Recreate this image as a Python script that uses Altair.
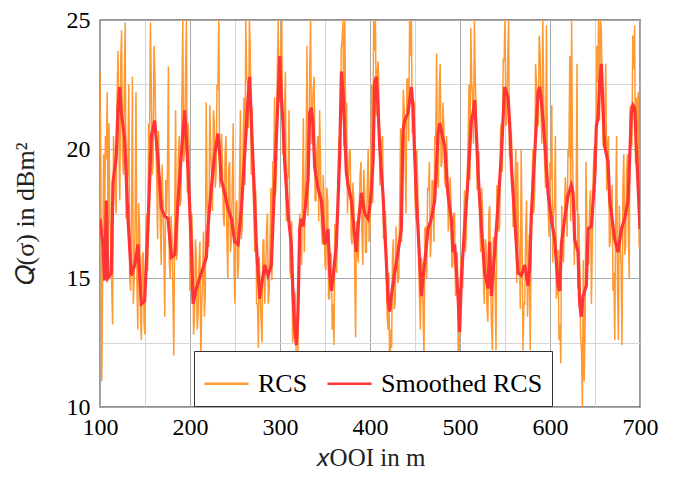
import altair as alt
import pandas as pd

# ---- data ----
series_names = ["RCS", "Smoothed RCS"]
series_colors = ["#ff9933", "#ff3535"]

# RCS sampled at even metres from 100 m to 700 m
rcs_x_even = list(range(100, 701, 2))
rcs_y_even = [
    23.0, 11.0, 19.8, 20.5, 22.2, 21.0, 16.0, 13.2, 19.5, 17.5, 23.8, 18.0, 24.6, 19.0, 24.9, 18.5,
    22.5, 14.5, 22.8, 15.0, 22.2, 13.0, 17.0, 12.6, 16.0, 12.8, 17.5, 21.0, 24.9, 19.0, 24.0, 20.5,
    16.5, 19.0, 15.5, 18.0, 13.5, 17.5, 23.2, 15.0, 16.5, 12.0, 21.5, 16.0, 20.5, 18.0, 25.0, 20.0,
    25.0, 21.0, 14.5,
    17.5, 12.8, 16.5, 13.0, 15.5, 11.8, 15.0, 13.5, 21.8, 17.0, 21.7, 19.0, 21.5, 18.5, 22.5, 25.0,
    20.0, 19.5, 17.0, 20.5, 15.0, 19.5, 16.5, 21.0, 14.0, 18.0, 15.5, 21.5, 17.0, 22.0, 25.0, 22.5,
    25.0, 19.0, 18.5, 16.0, 14.0, 12.3, 14.5, 12.5, 16.5, 15.0, 17.5, 14.5, 18.5, 19.5, 22.0, 19.0,
    25.0, 22.0,
    25.0, 20.5, 23.0, 19.0, 21.5, 15.0, 12.5, 14.5, 12.0, 12.2, 17.5, 15.5, 21.2, 18.0, 24.0, 19.5,
    25.0, 21.5, 22.8, 18.0, 20.5, 21.5, 17.0, 19.0, 15.5, 18.5, 14.2, 16.0, 13.0, 12.4, 15.5, 18.3,
    20.5, 23.9, 25.0, 25.0, 21.8, 18.8, 20.0, 16.3, 18.0, 12.7, 16.0, 17.5, 19.5, 15.5, 18.5, 16.0,
    20.0, 17.0,
    22.5, 25.0, 25.0, 23.0, 22.0, 19.5, 20.5, 17.5, 16.5, 13.0, 10.4, 12.3, 16.5, 14.0, 16.0, 15.0,
    20.8, 19.5, 21.5, 17.5, 22.7, 25.0, 25.0, 21.8, 18.0, 20.0, 16.0, 13.0, 15.5, 12.0, 17.0, 18.5,
    19.5, 16.5, 18.7, 20.5, 23.7, 18.5, 23.3, 19.5, 21.0, 18.5, 19.5, 17.5, 18.0, 15.5, 17.5, 14.5,
    12.0, 13.5,
    15.5, 17.0, 16.0, 19.0, 22.5, 24.7, 22.0, 25.0, 21.5, 19.5, 17.0, 18.5, 15.0, 16.5, 13.8, 17.5,
    15.0, 12.2, 15.5, 12.2, 18.0, 17.0, 21.0, 23.5, 25.0, 21.0, 25.0, 20.0, 19.5, 17.0, 20.0, 19.5,
    16.0, 20.0, 12.2, 14.0, 18.0, 15.0, 12.2, 18.5, 17.5, 23.3, 21.0, 24.4, 21.5, 25.0, 19.5, 24.8,
    17.5, 19.5,
    21.7, 17.5, 20.5, 14.5, 12.6, 11.7, 16.0, 17.5, 18.0, 20.0, 23.6, 25.0, 18.0, 17.5, 23.3, 17.5,
    12.7, 10.0, 11.0, 19.5, 17.0, 17.8, 14.0, 19.0, 20.2, 24.0, 25.0, 25.0, 22.0, 21.0, 23.3, 20.2,
    16.2, 17.5, 14.5, 12.6, 20.5, 12.6, 16.2, 12.4, 19.8, 16.2, 19.8, 15.0, 21.7, 24.4, 24.8, 22.0,
    22.2, 18.5,
]

# RCS at odd metres from 101 m to 699 m
rcs_x_odd = list(range(101, 700, 2))
rcs_y_odd = [
    19.0, 15.2, 16.8, 19.6, 16.2, 17.3, 14.8, 20.5, 18.0, 22.1, 20.5, 23.4, 19.8, 22.5, 17.3, 19.2,
    15.0, 17.4, 14.0, 17.2, 14.8, 17.9, 13.5, 15.8, 13.2, 16.9, 15.3, 20.2, 22.4, 19.5, 22.9, 18.8,
    20.7, 17.0, 19.4, 16.1, 18.8, 19.3, 15.6, 17.4, 14.5, 17.5, 15.7, 19.6, 17.8, 22.0, 19.5, 22.8,
    18.3, 20.0,
    15.5, 16.0, 13.4, 15.9, 13.6, 16.4, 13.9, 16.8, 14.4, 18.0, 16.2, 19.9, 17.6, 21.0, 19.0, 22.3,
    18.5, 20.6, 17.4, 19.8, 16.6, 19.2, 16.0, 18.6, 15.2, 17.8, 15.0, 18.6, 16.5, 20.3, 18.6, 22.8,
    20.8, 23.8, 21.6, 17.3, 18.4, 14.0, 15.8, 13.3, 16.4, 14.0, 16.8, 14.0, 16.7, 14.9, 19.5, 18.2,
    23.0, 21.8,
    24.0, 19.8, 21.2, 17.2, 18.9, 15.3, 17.2, 12.8, 14.3, 11.8, 16.8, 16.0, 18.5, 16.0, 19.8, 17.4,
    23.0, 20.2, 22.4, 18.0, 19.9, 17.2, 19.6, 16.3, 17.8, 15.3, 18.0, 14.2, 15.9, 14.0, 17.1, 15.2,
    19.9, 20.0, 24.2, 20.1, 21.0, 17.5, 19.8, 16.6, 18.7, 15.3, 17.2, 15.6, 19.0, 16.8, 19.2, 16.0,
    18.6, 16.4,
    19.6, 17.9, 23.8, 21.3, 23.4, 18.6, 20.3, 16.5, 17.6, 13.6, 15.2, 13.0, 15.9, 13.8, 17.0, 14.8,
    17.8, 16.4, 22.3, 19.8, 22.7, 20.3, 23.6, 20.6, 21.8, 17.2, 18.6, 14.3, 15.8, 13.6, 16.9, 15.0,
    18.4, 15.8, 18.8, 16.4, 20.2, 19.0, 22.4, 19.3, 21.8, 18.8, 20.5, 16.8, 18.9, 15.4, 17.5, 14.3,
    16.0, 12.0,
    15.8, 14.6, 18.4, 16.6, 20.3, 18.8, 22.6, 20.2, 22.6, 18.4, 19.9, 16.0, 17.7, 14.0, 16.3, 13.3,
    17.8, 13.1, 16.6, 14.8, 18.6, 16.8, 20.7, 19.1, 23.4, 20.9, 23.5, 19.7, 20.7, 17.0, 18.5, 14.8,
    16.6, 13.8, 16.6, 14.0, 16.8, 13.5, 16.7, 16.0, 20.0, 18.4, 22.5, 20.9, 23.7, 20.2, 22.2, 18.5,
    20.1, 16.6,
    18.8, 15.6, 17.9, 14.2, 16.1, 13.2, 17.8, 15.6, 18.9, 16.6, 19.7, 17.2, 20.0, 15.5, 17.7, 14.6,
    15.4, 12.2, 15.7, 13.2, 16.9, 15.5, 18.4, 16.2, 20.0, 19.1, 22.6, 21.1, 24.7, 20.1, 21.5, 18.4,
    20.5, 16.4, 18.6, 15.2, 17.7, 14.6, 17.8, 15.5, 18.5, 15.9, 19.1, 16.9, 21.6, 20.1, 23.1, 19.4,
    20.6, 16.2,
]

smooth_x = [
    100, 103.3, 105.2, 107, 108.9, 112.6, 114.4, 118.1, 120, 121.9, 123.7, 127.4, 131.1, 134.8,
    138.5, 142.2, 145.9, 149.6, 153.3, 157, 160.7, 164.4, 168.1, 171.9, 175.6, 179.3, 183, 186.7,
    190.4, 194.1, 197.8, 201.5, 203.4, 207.1, 210.8, 214.5, 218.2, 220, 223.7, 227.4, 231.1, 233,
    234.8, 238.5, 242.2, 246, 249.7, 253.4, 257.1, 260.8, 264.5, 266.3, 268.2, 271.9, 273.7, 277.4,
    279.3, 283, 286.7, 290.4, 294.1, 297.8, 299.7, 301.5, 303.4, 305.2, 308.9, 312.6, 314.5, 316.3,
    318.2, 320, 321.9, 323.7, 325.6, 327.4, 331.1, 333, 334.8, 336.7, 338.5, 342.2, 346, 349.6,
    353.4, 355.2, 357.1, 358.9, 362.6, 364.5, 366.3, 368.2, 370, 371.9, 373.7, 375.6, 379.3, 383,
    384.8, 386.7, 390.4, 394.1, 397.8, 400, 401.5, 403.4, 405.2, 407.1, 408.9, 410.8, 412.6, 414.5,
    416.3, 418.2, 420, 421.9, 423.7, 427.4, 431.1, 434.8, 436.7, 438.5, 442.2, 446, 447.8, 449.6,
    451.5, 453.4, 455.2, 457.1, 458.9, 460.8, 464.5, 468.2, 471.9, 475.6, 477.4, 479.3, 483, 486.7,
    490.4, 492.2, 494.1, 497.8, 499.6, 501.5, 505.2, 508.9, 512.6, 514.5, 516.3, 518.2, 520, 523.7,
    527.4, 531.1, 533, 534.8, 538.5, 542.2, 546, 549.6, 553.4, 555.2, 557.1, 560.8, 562.6, 564.5,
    568.2, 571.9, 575.6, 577.4, 579.3, 583, 586.7, 588.5, 590.4, 594.1, 597.8, 601.5, 605.2, 608.9,
    610.8, 612.6, 616.3, 620, 623.7, 625.6, 627.4, 631.1, 633, 634.8, 636.7, 640.4, 642.2, 646,
    649.6, 651.5, 653.4, 655.2, 657.1, 658.9, 660.8, 664.5, 666.3, 668.2, 671.9, 675.6, 679.3, 683,
    686.7, 690.4, 692.2, 694.1, 695.9, 697.8, 700,
]
smooth_y = [
    17.3, 16.3, 14.9, 18.0, 15.0, 15.2, 18.7, 19.7, 21.6, 22.4, 21.4, 20.4, 17.3, 15.1,
    15.5, 16.3, 14.0, 14.1, 17.0, 20.5, 21.1, 19.6, 17.7, 17.4, 17.3, 15.8, 15.9, 18.0,
    19.8, 21.5, 19.2, 16.3, 14.0, 14.6, 15.0, 15.4, 15.8, 17.0, 18.5, 19.8, 20.6, 19.8,
    18.8, 18.3, 17.7, 17.3, 16.4, 16.3, 17.7, 19.8, 22.0, 22.8, 21.0, 18.0, 16.3, 14.2,
    14.7, 15.5, 15.1, 15.5, 18.8, 22.0, 23.6, 22.0, 21.0, 19.5, 17.5, 16.3, 14.3, 13.1,
    12.4, 13.7, 16.9, 17.3, 17.0, 17.5, 18.8, 21.4, 21.6, 21.0, 19.3, 18.5, 18.0, 16.3,
    16.9, 15.2, 14.5, 15.0, 16.3, 18.0, 19.7, 23.0, 22.2, 20.7, 19.1, 18.6, 18.0, 16.6,
    16.0, 17.0, 18.3, 17.5, 17.3, 17.8, 18.4, 19.5, 22.6, 22.8, 21.6, 20.1, 19.1, 18.2,
    16.9, 15.6, 14.1, 13.7, 14.3, 15.2, 16.0, 16.9, 20.7, 21.1, 21.4, 22.4, 21.6, 19.8,
    18.2, 16.9, 15.6, 14.3, 15.0, 15.6, 16.9, 17.3, 18.0, 20.6, 21.0, 20.7, 20.1, 18.2,
    17.3, 16.0, 16.3, 14.3, 12.9, 15.0, 17.0, 18.8, 21.1, 21.4, 21.9, 20.6, 19.1, 17.0,
    15.2, 14.6, 16.4, 14.3, 16.0, 17.8, 19.8, 22.4, 22.0, 21.0, 19.3, 17.3, 16.3, 15.2,
    15.1, 15.5, 14.7, 15.4, 17.5, 19.8, 22.2, 22.4, 21.9, 20.3, 18.3, 17.3, 16.5, 14.7,
    14.5, 16.3, 17.3, 18.2, 18.6, 18.3, 16.5, 16.0, 14.0, 13.5, 14.3, 14.7, 16.9, 17.0,
    18.8, 20.9, 21.2, 22.6, 23.3, 21.6, 20.1, 19.5, 18.0, 17.5, 16.5, 16.0, 16.9, 17.3,
    18.0, 21.4, 21.7, 21.6, 20.1, 18.6, 16.9,
]

x_ticks = [100, 150, 200, 250, 300, 350, 400, 450, 500, 550, 600, 650, 700]
y_ticks = [10, 12.5, 15, 17.5, 20, 22.5, 25]

rcs_df = (
    pd.DataFrame({"x": rcs_x_even + rcs_x_odd, "y": rcs_y_even + rcs_y_odd})
    .sort_values("x")
    .assign(series=series_names[0])
)
smooth_df = pd.DataFrame({"x": smooth_x, "y": smooth_y, "series": series_names[1]})

FONT = "Liberation Serif"

x_enc = alt.X(
    "x:Q",
    scale=alt.Scale(domain=[100, 700], nice=False, zero=False),
    axis=alt.Axis(
        values=x_ticks,
        labelExpr="datum.value % 100 === 0 ? datum.label : ''",
        title="𝑥OOI in m",
        grid=True,
        gridColor={"condition": {"test": "datum.value % 100 === 0", "value": "#a9a9a9"}, "value": "#d6d6d6"},
        gridWidth=1,
        ticks=False,
        domain=False,
        labelFont=FONT,
        labelFontSize=24,
        labelColor="black",
        labelPadding=8,
        labelFlush=False,
        titleFont=FONT,
        titleFontSize=25,
        titleFontWeight="normal",
        titleColor="#222",
        titlePadding=6,
    ),
)
y_enc = alt.Y(
    "y:Q",
    scale=alt.Scale(domain=[10, 25], nice=False, zero=False),
    axis=alt.Axis(
        values=y_ticks,
        labelExpr="datum.value % 5 === 0 ? datum.label : ''",
        title="𝑄(σ) in dBm²",
        grid=True,
        gridColor={"condition": {"test": "datum.value % 5 === 0", "value": "#a9a9a9"}, "value": "#d6d6d6"},
        gridWidth=1,
        ticks=False,
        domain=False,
        labelFont=FONT,
        labelFontSize=24,
        labelColor="black",
        labelPadding=10,
        labelFlush=False,
        titleFont=FONT,
        titleFontSize=26,
        titleFontWeight="normal",
        titleColor="#222",
        titlePadding=28,
    ),
)
color_enc = alt.Color(
    "series:N",
    scale=alt.Scale(domain=series_names, range=series_colors),
    legend=alt.Legend(
        title=None,
        orient="none",
        legendX=94,
        legendY=331,
        direction="horizontal",
        fillColor="white",
        strokeColor="#333333",
        padding=9,
        symbolType="stroke",
        symbolSize=1936,
        symbolStrokeWidth=2.6,
        labelFont=FONT,
        labelFontSize=26,
        labelColor="black",
        labelLimit=400,
        labelOffset=8,
        columnPadding=14,
        cornerRadius=0,
    ),
)

rcs_line = alt.Chart(rcs_df).mark_line(strokeWidth=1.5, clip=True).encode(
    x=x_enc, y=y_enc, color=color_enc, order="x:Q"
)
smooth_line = alt.Chart(smooth_df).mark_line(strokeWidth=3.2, clip=True).encode(
    x=x_enc, y=y_enc, color=color_enc
)

chart = (
    alt.layer(rcs_line, smooth_line)
    .properties(
        width=540,
        height=387,
        padding={"left": 92, "top": 12, "right": 30, "bottom": 62},
        autosize=alt.AutoSizeParams(type="none"),
    )
    .configure(font=FONT)
    .configure_view(stroke="#222222", strokeWidth=1.3)
)

chart.save("out.html", embed_options={"renderer": "svg", "actions": False})
